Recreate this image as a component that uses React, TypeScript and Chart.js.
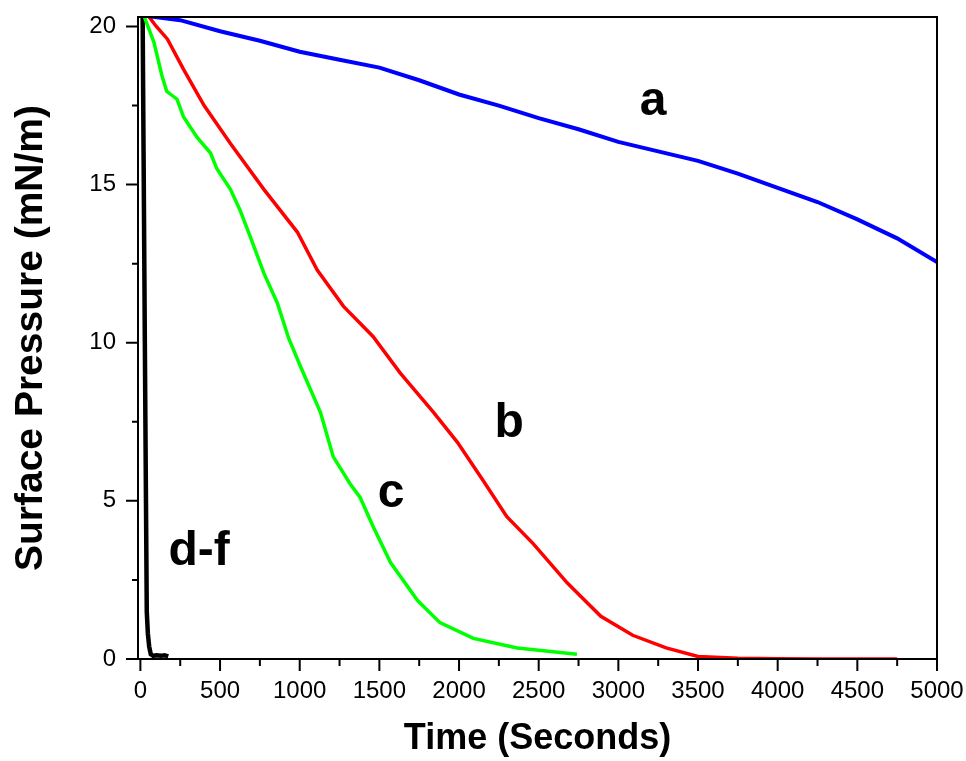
import React, { useEffect, useRef } from "react";
import { Chart, registerables } from "chart.js";

Chart.register(...registerables);

// ---- data ----
const timeA = [20, 250, 500, 750, 1000, 1250, 1500, 1750, 2000, 2250, 2500, 2750, 3000, 3250, 3500, 3750, 4000, 4250, 4500, 4750, 5000];
const pressureA = [20.35, 20.2, 19.85, 19.55, 19.2, 18.95, 18.7, 18.3, 17.85, 17.5, 17.1, 16.75, 16.35, 16.05, 15.75, 15.35, 14.9, 14.45, 13.9, 13.3, 12.55];

const timeB = [40, 100, 170, 270, 400, 565, 775, 985, 1110, 1275, 1460, 1630, 1840, 1990, 2150, 2300, 2465, 2680, 2890, 3090, 3300, 3500, 3750, 4000, 4250, 4500, 4750];
const pressureB = [20.4, 20.0, 19.6, 18.65, 17.5, 16.3, 14.85, 13.5, 12.3, 11.15, 10.2, 9.05, 7.8, 6.85, 5.65, 4.5, 3.65, 2.4, 1.35, 0.75, 0.35, 0.08, 0.02, 0.01, 0.0, 0.0, 0.0];

const timeC = [25, 85, 135, 165, 230, 270, 355, 440, 480, 565, 625, 690, 775, 860, 930, 1005, 1130, 1210, 1315, 1380, 1460, 1570, 1740, 1880, 2090, 2365, 2740];
const pressureC = [20.3, 19.5, 18.45, 17.95, 17.7, 17.15, 16.5, 16.0, 15.5, 14.85, 14.2, 13.35, 12.2, 11.25, 10.15, 9.25, 7.8, 6.4, 5.55, 5.1, 4.2, 3.05, 1.85, 1.15, 0.65, 0.35, 0.15];

const timeDF = [14, 20, 28, 35, 40, 47, 55, 65, 80, 100, 130, 150, 175];
const pressureDF = [20.4, 16, 10, 5, 1.5, 0.8, 0.4, 0.15, 0.1, 0.12, 0.1, 0.12, 0.08];

const xTickValues = [0, 500, 1000, 1500, 2000, 2500, 3000, 3500, 4000, 4500, 5000];
const yTickValues = [0, 5, 10, 15, 20];

const curveLabels = ["a", "b", "c", "d-f"];
const curveLabelTime = [3218, 2314, 1573, 368];
const curveLabelPressure = [17.2, 7.02, 4.81, 2.97];

const FONT = "'Liberation Sans', Arial, Helvetica, sans-serif";

const toPoints = (xs: number[], ys: number[]) => xs.map((x, i) => ({ x, y: ys[i] }));

const framePlugin = {
  id: "frameAndTicks",
  afterDatasetsDraw(chart: any) {
    const { ctx, chartArea } = chart;
    const xs = chart.scales.x;
    const ys = chart.scales.y;
    ctx.save();
    ctx.strokeStyle = "#000";
    ctx.lineWidth = 2;
    ctx.strokeRect(chartArea.left, chartArea.top, chartArea.right - chartArea.left, chartArea.bottom - chartArea.top);
    ctx.beginPath();
    for (let i = 0; i < xTickValues.length; i++) {
      const px = xs.getPixelForValue(xTickValues[i]);
      ctx.moveTo(px, chartArea.bottom);
      ctx.lineTo(px, chartArea.bottom + 12);
      if (i < xTickValues.length - 1) {
        const m = xs.getPixelForValue((xTickValues[i] + xTickValues[i + 1]) / 2);
        ctx.moveTo(m, chartArea.bottom);
        ctx.lineTo(m, chartArea.bottom + 7);
      }
    }
    for (let i = 0; i < yTickValues.length; i++) {
      const py = ys.getPixelForValue(yTickValues[i]);
      ctx.moveTo(chartArea.left, py);
      ctx.lineTo(chartArea.left - 12, py);
      if (i < yTickValues.length - 1) {
        const m = ys.getPixelForValue((yTickValues[i] + yTickValues[i + 1]) / 2);
        ctx.moveTo(chartArea.left, m);
        ctx.lineTo(chartArea.left - 6, m);
      }
    }
    ctx.stroke();
    ctx.fillStyle = "#000";
    ctx.font = `bold 48px ${FONT}`;
    ctx.textAlign = "center";
    ctx.textBaseline = "alphabetic";
    for (let i = 0; i < curveLabels.length; i++) {
      ctx.fillText(curveLabels[i], xs.getPixelForValue(curveLabelTime[i]), ys.getPixelForValue(curveLabelPressure[i]));
    }
    ctx.restore();
  },
};

export default function App() {
  const ref = useRef<HTMLCanvasElement | null>(null);
  useEffect(() => {
    if (!ref.current) return;
    const chart = new Chart(ref.current, {
      type: "scatter",
      data: {
        datasets: [
          { data: toPoints(timeA, pressureA), borderColor: "#0000ff", borderWidth: 4, showLine: true, pointRadius: 0, tension: 0 },
          { data: toPoints(timeB, pressureB), borderColor: "#ff0000", borderWidth: 3.5, showLine: true, pointRadius: 0, tension: 0 },
          { data: toPoints(timeC, pressureC), borderColor: "#00ff00", borderWidth: 3.5, showLine: true, pointRadius: 0, tension: 0 },
          { data: toPoints(timeDF, pressureDF), borderColor: "#000000", borderWidth: 4.5, showLine: true, pointRadius: 0, tension: 0 },
        ],
      },
      options: {
        responsive: false,
        animation: false,
        events: [],
        layout: { autoPadding: false, padding: { top: 17, right: 29, bottom: 0, left: 0 } },
        plugins: { legend: { display: false }, tooltip: { enabled: false } },
        scales: {
          x: {
            type: "linear",
            min: -15,
            max: 5000,
            grid: { display: false, drawTicks: false },
            border: { display: false },
            afterBuildTicks: (s: any) => {
              s.ticks = xTickValues.map((v) => ({ value: v }));
            },
            afterFit: (s: any) => {
              s.height = 102;
              s.paddingLeft = 0;
              s.paddingRight = 0;
              s.paddingTop = 0;
              s.paddingBottom = 0;
            },
            ticks: {
              autoSkip: false,
              maxRotation: 0,
              padding: 18,
              color: "#000",
              font: { family: FONT, size: 24 },
              callback: (v: any) => String(v),
            },
            title: {
              display: true,
              text: "Time (Seconds)",
              color: "#000",
              font: { family: FONT, size: 36, weight: "bold" },
              padding: { top: 0, bottom: 0 },
            },
          },
          y: {
            type: "linear",
            min: 0,
            max: 20.3,
            grid: { display: false, drawTicks: false },
            border: { display: false },
            afterBuildTicks: (s: any) => {
              s.ticks = yTickValues.map((v) => ({ value: v }));
            },
            afterFit: (s: any) => {
              s.width = 138;
              s.paddingLeft = 0;
              s.paddingRight = 0;
              s.paddingTop = 0;
              s.paddingBottom = 0;
            },
            ticks: {
              autoSkip: false,
              padding: 22,
              color: "#000",
              font: { family: FONT, size: 24 },
              callback: (v: any) => String(v),
            },
            title: {
              display: true,
              text: "Surface Pressure (mN/m)",
              color: "#000",
              font: { family: FONT, size: 39, weight: "bold" },
              padding: { top: 8, bottom: 0 },
            },
          },
        },
      },
      plugins: [framePlugin],
    } as any);
    return () => chart.destroy();
  }, []);
  return (
    <canvas
      ref={ref}
      width={966}
      height={761}
      style={{ position: "absolute", left: 0, top: 0, display: "block", background: "#fff" }}
    />
  );
}
